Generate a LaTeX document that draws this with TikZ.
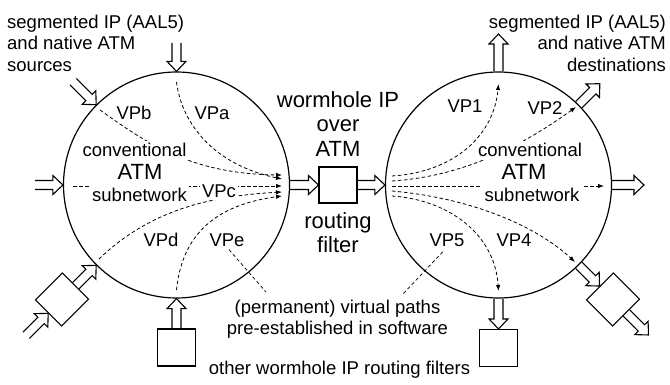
\documentclass[tikz,border=0pt]{standalone}
\usepackage{fontspec}
\setmainfont{Liberation Sans}
\usetikzlibrary{arrows.meta,calc}

\newcommand\hollowarr[2]{%
  \draw[harr] let \p1=($(#2)-(#1)$), \n1={atan2(\y1,\x1)}, \n2={veclen(\x1,\y1)} in
    ($(#1)+(\n1+90:4.5pt)$)
 -- ($(#1)+(\n1:\n2-10pt)+(\n1+90:4.5pt)$)
 -- ($(#1)+(\n1:\n2-10pt)+(\n1+90:9.5pt)$)
 -- (#2)
 -- ($(#1)+(\n1:\n2-10pt)+(\n1-90:9.5pt)$)
 -- ($(#1)+(\n1:\n2-10pt)+(\n1-90:4.5pt)$)
 -- ($(#1)+(\n1-90:4.5pt)$);}

\begin{document}
\begin{tikzpicture}[x=1pt,y=-1pt,
  circ/.style={circle,draw,line width=1.2pt,minimum size=226pt,inner sep=0pt},
  boxn/.style={rectangle,draw,line width=1.1pt,minimum width=38pt,minimum height=37pt,inner sep=0pt},
  diam/.style={boxn,rotate=45},
  harr/.style={line width=1.1pt,line join=miter},
  vp/.style={line width=0.8pt,dash pattern=on 3.5pt off 2.5pt,-{Latex[length=6pt,width=4.5pt]}},
  ptr/.style={line width=0.7pt,dash pattern=on 3.5pt off 2.5pt},
  lbl/.style={font=\fontsize{18.5}{21.5}\selectfont,inner sep=0pt},
  big/.style={font=\fontsize{22}{24.5}\selectfont,inner sep=0pt},
  wbg/.style={fill=white,inner sep=2.5pt},
]
\useasboundingbox (0,0) rectangle (670,385);

% main shapes
\node[circ] (L) at (176.5,185) {};
\node[circ] (R) at (498.5,185) {};
\node[boxn,minimum height=36pt] (F) at (338,185) {};
\node[boxn] (BL) at (176.5,347.5) {};
\node[boxn] (BR) at (498.5,348) {};
\node[diam] (DL) at (62,299.5) {};
\node[diam] (DR) at (613,299.5) {};

% free ends of hollow arrows
\coordinate (inT) at (176.5,43);
\coordinate (inUL) at ($(L.135)+(-23,-23)$);
\coordinate (inL) at (35,185);
\coordinate (inDL) at ($(DL.west)+(-22,22)$);
\coordinate (outT) at (498.5,34);
\coordinate (outUR) at ($(R.45)+(21,-21)$);
\coordinate (outR) at (644,185);
\coordinate (outDR) at ($(DR.south)+(22,22)$);

\hollowarr{inT}{L.90}
\hollowarr{inUL}{L.135}
\hollowarr{inL}{L.180}
\hollowarr{DL.east}{L.225}
\hollowarr{inDL}{DL.west}
\hollowarr{BL.north}{L.270}
\hollowarr{L.0}{F.west}
\hollowarr{F.east}{R.180}
\hollowarr{R.90}{outT}
\hollowarr{R.45}{outUR}
\hollowarr{R.0}{outR}
\hollowarr{R.315}{DR.north}
\hollowarr{DR.south}{outDR}
\hollowarr{R.270}{BR.north}

% virtual paths, left subnetwork
\coordinate (a0) at (176.5,82);  \coordinate (a1) at (282,179);
\coordinate (b0) at (100,110);   \coordinate (b1) at (282,175);
\coordinate (c0) at (73,186);    \coordinate (c1) at (282,186);
\coordinate (d0) at (99,259);    \coordinate (d1) at (282,192);
\coordinate (e0) at (176.5,290); \coordinate (e1) at (282,196);
\draw[vp] (a0) .. controls (182,125) and (215,165) .. (a1);
\draw[vp] (b0) .. controls (145,142) and (190,174) .. (b1);
\draw[vp] (c0) -- (c1);
\draw[vp] (d0) .. controls (150,210) and (210,196) .. (d1);
\draw[vp] (e0) .. controls (182,235) and (215,205) .. (e1);

% virtual paths, right subnetwork
\coordinate (p1s) at (392,176); \coordinate (p1e) at (498.5,84);
\coordinate (p2s) at (392,181); \coordinate (p2e) at (576,107);
\coordinate (p3s) at (392,186); \coordinate (p3e) at (604,186);
\coordinate (p4s) at (392,191); \coordinate (p4e) at (575,262);
\coordinate (p5s) at (392,196); \coordinate (p5e) at (498.5,291);
\draw[vp] (p1s) .. controls (455,172) and (494,135) .. (p1e);
\draw[vp] (p2s) .. controls (470,176) and (530,140) .. (p2e);
\draw[vp] (p3s) -- (p3e);
\draw[vp] (p4s) .. controls (470,198) and (535,225) .. (p4e);
\draw[vp] (p5s) .. controls (450,200) and (495,235) .. (p5e);

% texts
\node[lbl,align=left,anchor=north west] (srcTxt) at (7,14.5) {segmented IP (AAL5)\\and native ATM\\sources};
\node[lbl,align=right,anchor=north east] (dstTxt) at (666,14.5) {segmented IP (AAL5)\\and native ATM\\destinations};
\node[big,align=center,anchor=north] (wTxt) at (338,91) {wormhole IP\\over\\ATM};
\node[big,align=center,anchor=north] (rTxt) at (338,212) {routing\\filter};
\node[lbl,align=center,anchor=north] (perm) at (337.5,299.5) {(permanent) virtual paths\\pre-established in software};
\node[lbl,anchor=base] (other) at (339.5,374) {other wormhole IP routing filters};

\node[lbl,anchor=base] (VPb) at (134,120) {VPb};
\node[lbl,anchor=base] (VPa) at (212,120) {VPa};
\node[lbl,wbg,anchor=base] (convL) at (134.5,157) {conventional};
\node[big,wbg,anchor=base] (atmL) at (140,180) {ATM};
\node[lbl,wbg,anchor=base] (subL) at (139.5,201) {subnetwork};
\node[lbl,wbg,anchor=base] (VPc) at (219,197) {VPc};
\node[lbl,anchor=base] (VPd) at (161,247) {VPd};
\node[lbl,anchor=base] (VPe) at (227,247) {VPe};

\node[lbl,anchor=base] (VP1) at (465,113) {VP1};
\node[lbl,anchor=base] (VP2) at (545,115) {VP2};
\node[lbl,wbg,anchor=base] (convR) at (530,157) {conventional};
\node[big,wbg,anchor=base] (atmR) at (524,180) {ATM};
\node[lbl,wbg,anchor=base] (subR) at (532,201) {subnetwork};
\node[lbl,anchor=base] (VP5) at (447,247) {VP5};
\node[lbl,anchor=base] (VP4) at (514,247) {VP4};

% pointers from labels to the explanation
\coordinate (pe) at (266,292);
\coordinate (p5) at (402,295);
\draw[ptr,shorten <=3pt] (VPe.south) -- (pe);
\draw[ptr,shorten <=6pt] (VP5.south) -- (p5);
\end{tikzpicture}
\end{document}
